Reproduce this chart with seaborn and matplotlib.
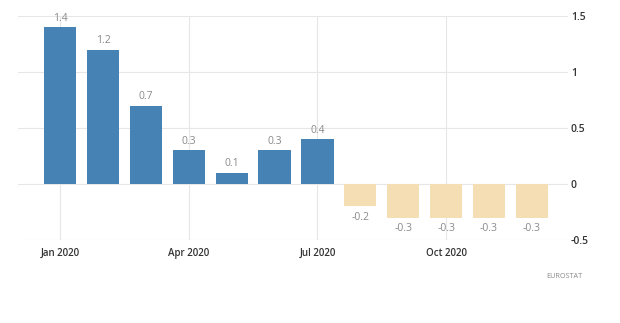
import matplotlib
matplotlib.use("Agg")
import matplotlib.pyplot as plt
import seaborn as sns
import pandas as pd

months = ["Jan 2020", "Feb 2020", "Mar 2020", "Apr 2020", "May 2020", "Jun 2020",
          "Jul 2020", "Aug 2020", "Sep 2020", "Oct 2020", "Nov 2020", "Dec 2020"]
values = [1.4, 1.2, 0.7, 0.3, 0.1, 0.3, 0.4, -0.2, -0.3, -0.3, -0.3, -0.3]
tick_labels = ["Jan 2020", "Apr 2020", "Jul 2020", "Oct 2020"]
y_ticks = [1.5, 1, 0.5, 0, -0.5]
y_tick_labels = ["1.5", "1", "0.5", "0", "-0.5"]

POS, NEG = "#4682b4", "#f5deb3"

df = pd.DataFrame({"month": months, "value": values})
palette = {m: (POS if v >= 0 else NEG) for m, v in zip(months, values)}

sns.set_style("white")
plt.rcParams["font.family"] = ["Open Sans", "DejaVu Sans"]

fig = plt.figure(figsize=(6.2, 3.23), dpi=100)
ax = fig.add_axes([18 / 620, 1 - 240 / 323, 550 / 620, 224 / 323])

sns.barplot(data=df, x="month", y="value", hue="month", palette=palette,
            legend=False, width=0.75, ax=ax, zorder=3, saturation=1, linewidth=0)

ax.set_xlim(-0.98, 11.84)
ax.set_ylim(-0.5, 1.5)

# grid
for y in y_ticks:
    ax.axhline(y, color="#e6e6e6", lw=0.8, zorder=1)
for i, m in enumerate(months):
    if m in tick_labels:
        ax.axvline(i, color="#e6e6e6", lw=0.8, zorder=1)

# value labels
for i, v in enumerate(values):
    if v >= 0:
        ax.text(i, v + 0.03, f"{v:.1f}", ha="center", va="bottom",
                fontsize=7.5, color="#8a8a8a", zorder=4)
    else:
        ax.text(i, v - 0.05, f"{v:.1f}", ha="center", va="top",
                fontsize=7.5, color="#8a8a8a", zorder=4)

ax.set_xticks([months.index(t) for t in tick_labels])
ax.set_xticklabels(tick_labels, fontsize=7, color="#333333", fontweight="semibold")
ax.tick_params(axis="x", length=3, color="#e6e6e6", pad=3)

ax.yaxis.tick_right()
ax.set_yticks(y_ticks)
ax.set_yticklabels(y_tick_labels, fontsize=7.5, color="#333333", fontweight="semibold")
ax.tick_params(axis="y", length=0, pad=2)

ax.set_xlabel("")
ax.set_ylabel("")
for s in ax.spines.values():
    s.set_visible(False)

fig.text(582 / 620, 1 - 276 / 323, "EUROSTAT", fontsize=5.2, color="#888888",
         ha="right", va="center")

fig.savefig("out.png", dpi=100, facecolor="white")
